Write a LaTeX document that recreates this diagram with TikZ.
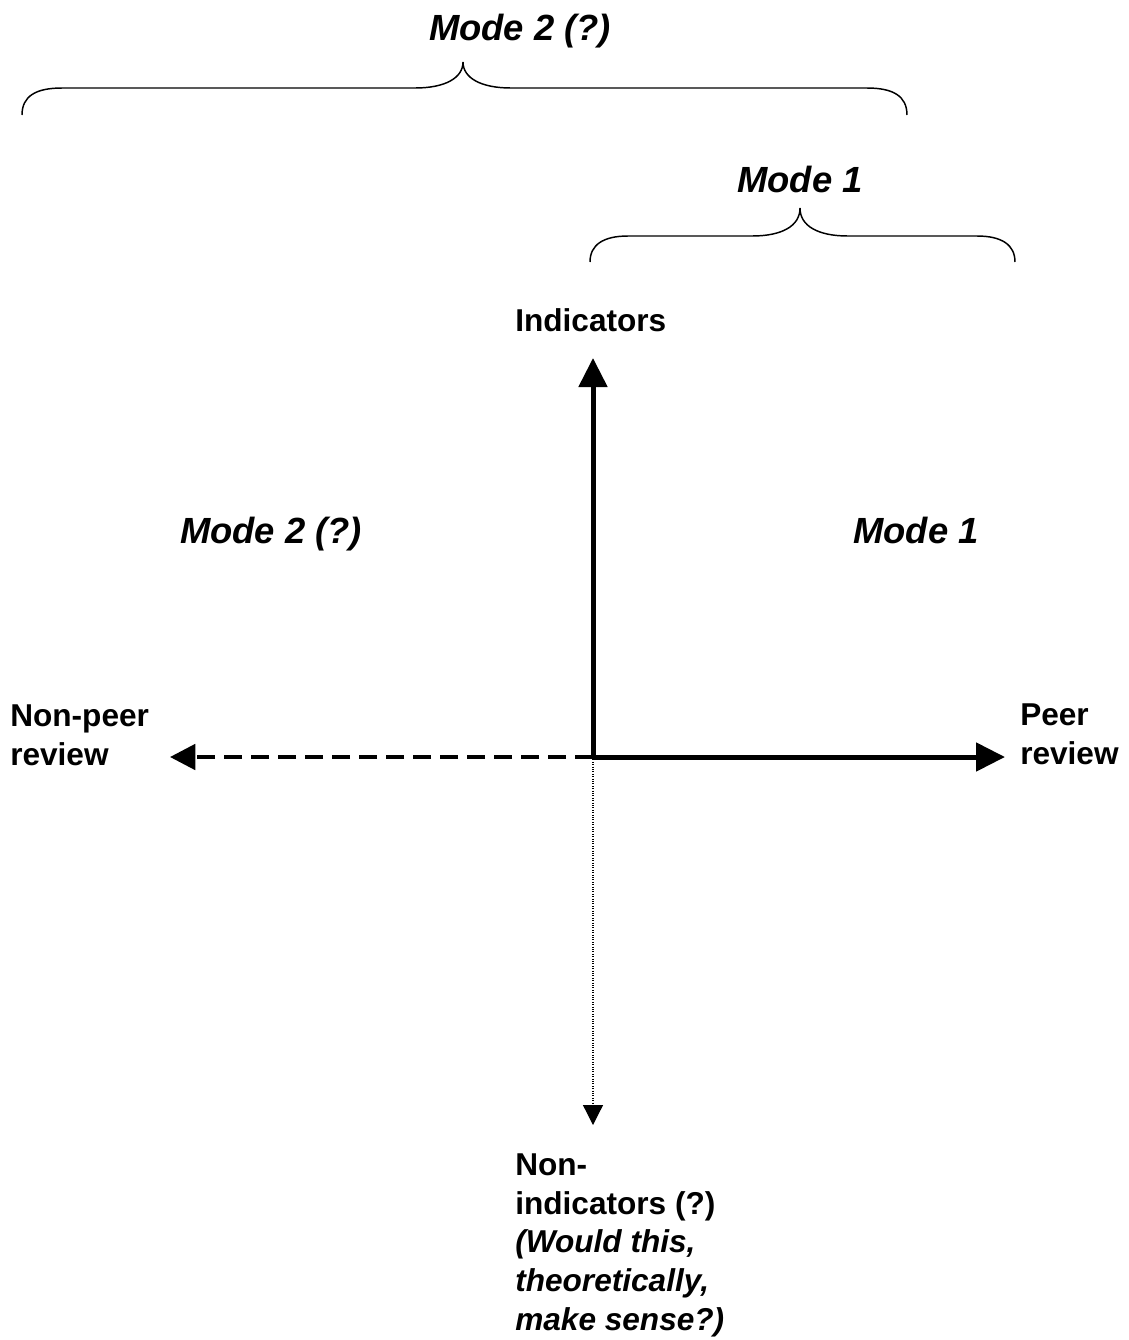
\documentclass[tikz,border=0pt]{standalone}
\usepackage{fontspec}
\setmainfont{Liberation Sans}
\usetikzlibrary{arrows.meta}
\begin{document}
\begin{tikzpicture}[x=0.75pt,y=-0.75pt,
 lbl/.style={font=\fontsize{23.7}{29}\selectfont\bfseries, inner sep=0pt, align=left, anchor=base west},
 mode/.style={font=\fontsize{27.3}{33}\selectfont\bfseries\itshape, inner sep=0pt, anchor=base},
 axis/.style={line width=3.75pt, -{Triangle[length=21.75pt,width=21pt]}},
 negaxis/.style={line width=3pt, dash pattern=on 13.5pt off 6.75pt, -{Triangle[length=19pt,width=19pt]}},
 dotaxis/.style={line width=0.9pt, dash pattern=on 0.8pt off 1pt, -{Triangle[length=15pt,width=15pt]}},
 brace/.style={line width=1.1pt}]
\useasboundingbox (0,0) rectangle (1129,1340);
% braces
\draw[brace] (22,115) .. controls (22,96) and (36,88) .. (62,88) -- (415,88)
  .. controls (445,88) and (463,78) .. (463,62)
  .. controls (463,78) and (481,88) .. (511,88) -- (867,88)
  .. controls (893,88) and (907,96) .. (907,115);
\draw[brace] (590,262) .. controls (590,245) and (603,236) .. (628,236) -- (752,236)
  .. controls (782,236) and (800,226) .. (800,208)
  .. controls (800,226) and (818,236) .. (848,236) -- (977,236)
  .. controls (1002,236) and (1015,245) .. (1015,262);
% mode labels
\node[mode] (m2top) at (520,40) {Mode 2 (?)};
\node[mode] (m1top) at (800,192) {Mode 1};
\node[mode] (m2mid) at (271,543) {Mode 2 (?)};
\node[mode] (m1mid) at (916,543) {Mode 1};
% axis labels
\node[lbl] (ind) at (515,331) {Indicators};
\node[lbl] (npr) at (10,765) {Non-peer\\review};
\node[lbl] (pr) at (1020,764) {Peer\\review};
\node[lbl] (nind) at (515,1330) {Non-\\indicators (?)\\\textit{(Would this,}\\\textit{theoretically,}\\\textit{make sense?)}};
% axes
\coordinate (O) at (593,757);
\coordinate (up) at (593,358);
\coordinate (right) at (1005,757);
\coordinate (left) at (170,757);
\coordinate (down) at (593,1125);
\draw[dotaxis] (O) -- (down);
\draw[negaxis] (O) -- (left);
\draw[axis, line cap=butt] (O) -- (up);
\draw[axis] (O) -- (right);
\fill (591.5,759.5) rectangle (595.5,754);
\end{tikzpicture}
\end{document}
